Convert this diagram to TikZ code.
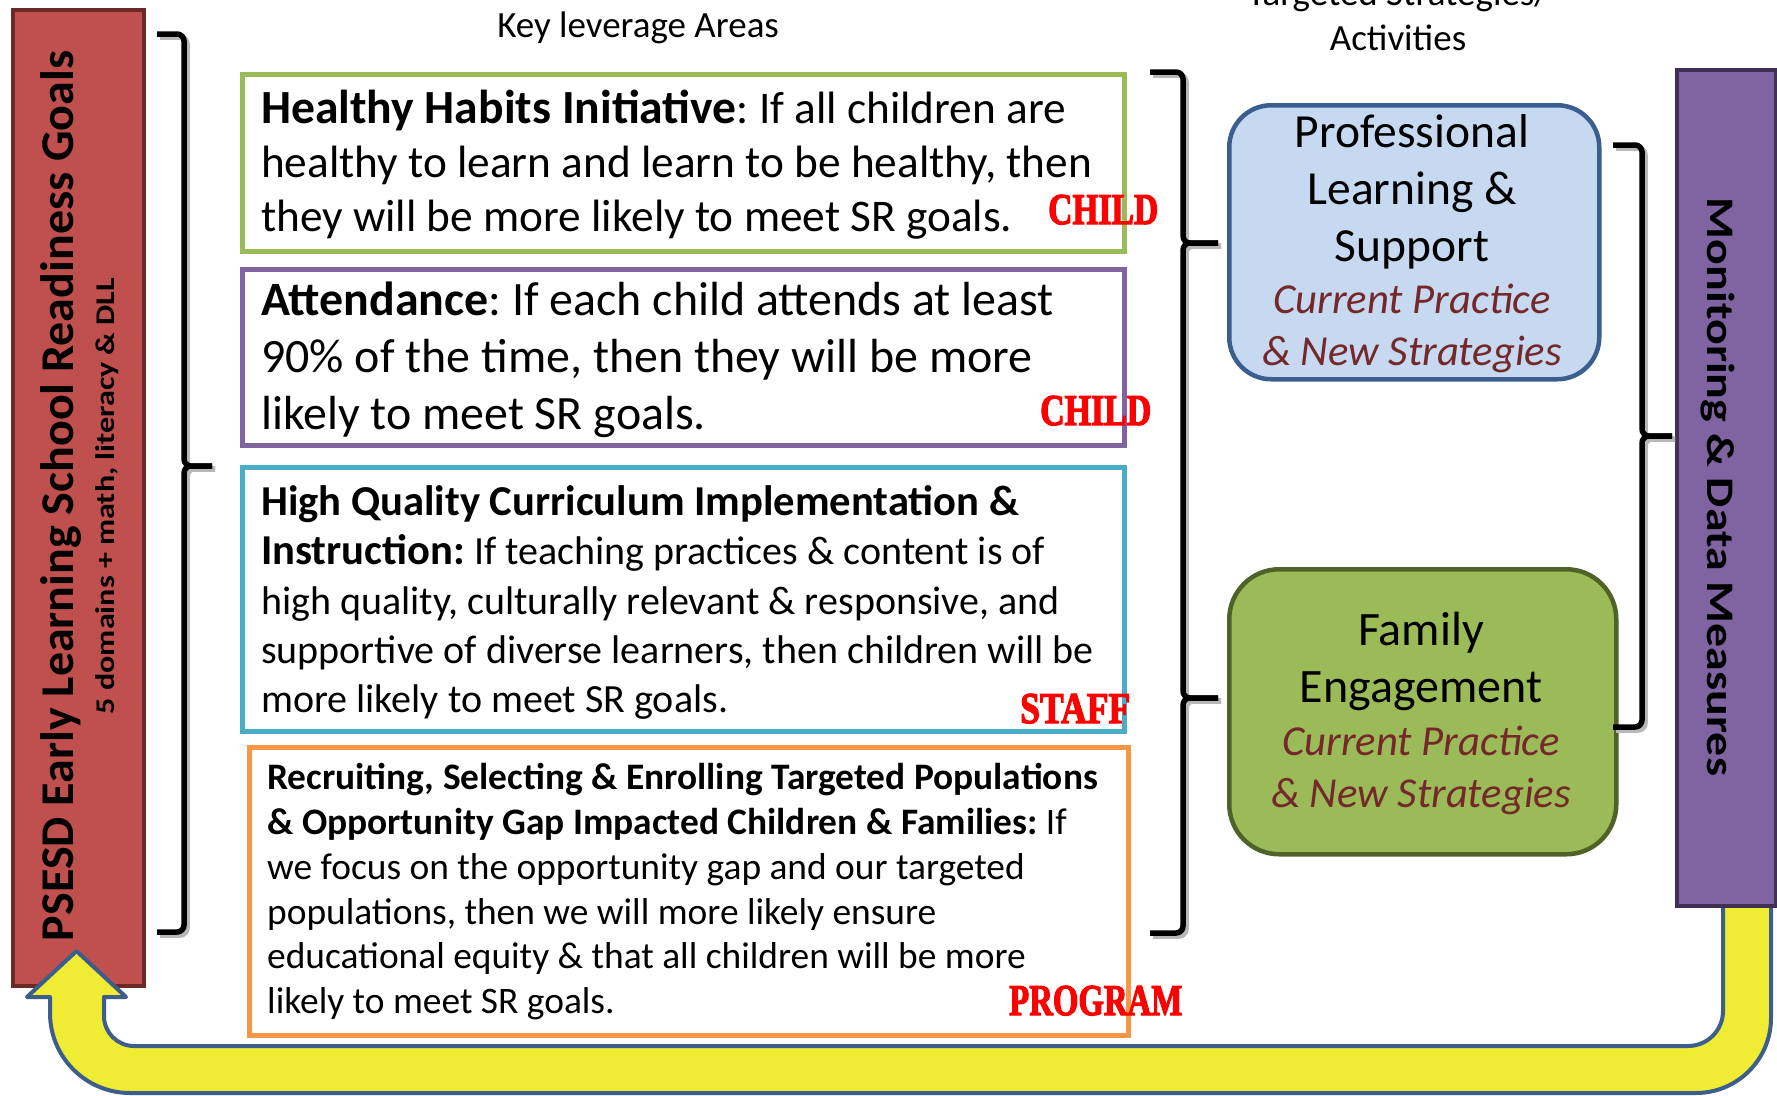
\documentclass[tikz,border=0pt]{standalone}
\usepackage{fontspec}
\usepackage{graphicx}
\setmainfont{Carlito}
\newfontfamily\tagfont[FakeBold=3]{Liberation Serif}
\definecolor{gB}{HTML}{9BBB59}
\definecolor{pB}{HTML}{8064A2}
\definecolor{cB}{HTML}{4BACC6}
\definecolor{oB}{HTML}{F79646}
\definecolor{redF}{HTML}{C0504D}
\definecolor{redD}{HTML}{6B2927}
\definecolor{purF}{HTML}{8064A2}
\definecolor{purD}{HTML}{3F3151}
\definecolor{blF}{HTML}{C6D9F1}
\definecolor{blD}{HTML}{3A5F8E}
\definecolor{grF}{HTML}{9BBB59}
\definecolor{grD}{HTML}{4F6228}
\definecolor{maroon}{HTML}{74282A}
\definecolor{yel}{HTML}{F0EB33}
\definecolor{arrD}{HTML}{3B5E8C}
\frenchspacing
\newcommand{\setfs}[2]{\fontsize{#1}{#2}\selectfont}
\newcommand{\lnstrut}{\rule{0pt}{0.75em}}
\newcommand{\tagtext}[2]{\resizebox{#1pt}{\height}{\tagfont\bfseries\fontsize{44}{50}\selectfont #2}}
\tikzset{
  kbox/.style={draw, line width=4.5pt, anchor=north west, inner sep=0pt, fill=white},
  ktext/.style={inner sep=0pt, anchor=north west, align=left},
  ctext/.style={inner sep=0pt, anchor=north, align=center},
  rbox/.style={line width=4.5pt, anchor=north west, inner sep=0pt},
  brk/.style={line width=5.5pt, rounded corners=7pt},
  brkshadow/.style={brk, draw=black!28, transform canvas={shift={(3pt,-3pt)}}},
  tag/.style={inner sep=0pt, anchor=base west, text=red},
  head/.style={inner sep=0pt, anchor=base, font=\setfs{37}{45}}
}
\begin{document}
\begin{tikzpicture}[x=1pt,y=-1pt]
\useasboundingbox (0,0) rectangle (1777,1095);
\fill[white] (0,0) rectangle (1777,1095);

% headings
\node[head] (kla) at (638,37) {Key leverage Areas};
\node[head] (tsa) at (1398,5) {Targeted Strategies/};
\node[head] (act) at (1398,50) {Activities};

% goals box
\node[rbox, draw=redD, fill=redF, line width=4pt, minimum width=131pt, minimum height=976pt] (goals) at (11,8) {};
\node[rotate=90, anchor=base, inner sep=0pt] (goalt) at (73,496)
  {\resizebox{890pt}{\height}{\setfs{47}{52}\bfseries PSESD Early Learning School Readiness Goals}};
\node[rotate=90, anchor=base, inner sep=0pt] (goals2) at (114,496)
  {\resizebox{436pt}{\height}{\setfs{27}{32}\bfseries 5 domains + math, literacy \& DLL}};

% feedback arrow
\draw[fill=yel, draw=arrD, line width=4pt, line join=round]
  (1771,890) -- (1771,1018) arc[start angle=0,end angle=90,radius=75]
  -- (130,1093) arc[start angle=90,end angle=180,radius=80]
  -- (50,997) -- (27,997) -- (76.5,951) -- (126,997) -- (104,997)
  -- (104,1016) arc[start angle=180,end angle=90,radius=30]
  -- (1688,1046) arc[start angle=90,end angle=0,radius=35]
  -- (1723,890) -- cycle;

% monitoring box
\node[rbox, draw=purD, fill=purF, line width=4pt, minimum width=99pt, minimum height=836pt] (mon) at (1675,68) {};
\node[rotate=-90, anchor=base, inner sep=0pt] (mont) at (1707,487)
  {\resizebox{578pt}{\height}{\setfs{39}{44}\bfseries Monitoring \& Data Measures}};

% key leverage boxes
\node[kbox, draw=gB, minimum width=882pt, minimum height=177pt] (hh) at (240,72) {};
\node[kbox, draw=pB, minimum width=882pt, minimum height=176pt] (att) at (240,267) {};
\node[kbox, draw=cB, minimum width=882pt, minimum height=264pt] (hq) at (240,465) {};
\node[kbox, draw=oB, minimum width=879pt, minimum height=288pt] (rec) at (247,745) {};

\node[ktext, font=\setfs{45.3}{54.4}] (hht) at (261,89)
  {\lnstrut{\bfseries\setfs{47.6}{54.4}Healthy Habits Initiative}: If all children are\\
   healthy to learn and learn to be healthy, then\\
   they will be more likely to meet SR goals.};
\node[ktext, font=\setfs{47.9}{57}] (attt) at (261,279.5)
  {\lnstrut\textbf{Attendance}: If each child attends at least\\
   90\% of the time, then they will be more\\
   likely to meet SR goals.};
\node[ktext, font=\setfs{40}{49.2}] (hqt) at (261,485.5)
  {\lnstrut{\bfseries\setfs{42.6}{49.2}High Quality Curriculum Implementation \&}\\
   {\bfseries\setfs{42.6}{49.2}Instruction:} If teaching practices \& content is of\\
   high quality, culturally relevant \& responsive, and\\
   supportive of diverse learners, then children will be\\
   more likely to meet SR goals.};
\node[ktext, font=\setfs{37.4}{44.8}] (rect) at (267,761.5)
  {\lnstrut\textbf{Recruiting, Selecting \& Enrolling Targeted Populations}\\
   \textbf{\& Opportunity Gap Impacted Children \& Families:} If\\
   we focus on the opportunity gap and our targeted\\
   populations, then we will more likely ensure\\
   educational equity \& that all children will be more\\
   likely to meet SR goals.};

% tags
\node[tag] (tag1) at (1048,224) {\tagtext{110}{CHILD}};
\node[tag] (tag2) at (1040,425) {\tagtext{111}{CHILD}};
\node[tag] (tag3) at (1020,723) {\tagtext{110}{STAFF}};
\node[tag] (tag4) at (1009,1015) {\tagtext{173}{PROGRAM}};

% strategy boxes
\node[rbox, draw=blD, fill=blF, rounded corners=42pt, minimum width=370pt, minimum height=274pt] (pls) at (1227,103) {};
\node[ctext, font=\setfs{47.5}{57}] (plst) at (1412,111.4) {\lnstrut Professional\\Learning \&\\Support};
\node[ctext, font=\setfs{42.7}{52}\itshape, text=maroon] (plsi) at (1412,281) {\lnstrut Current Practice\\\& New Strategies};

\node[rbox, draw=grD, fill=grF, rounded corners=50pt, minimum width=387pt, minimum height=285pt] (fam) at (1227,567) {};
\node[ctext, font=\setfs{48}{57}] (famt) at (1421,609) {\lnstrut Family\\Engagement};
\node[ctext, font=\setfs{42.7}{52}\itshape, text=maroon] (fami) at (1421,723) {\lnstrut Current Practice\\\& New Strategies};

% bracket coordinates
\coordinate (lA) at (157,34);  \coordinate (lB) at (157,932);
\coordinate (lV) at (184,466); \coordinate (lT) at (212,466);
\coordinate (mA) at (1150,72); \coordinate (mB) at (1150,933);
\coordinate (mV1) at (1183,243); \coordinate (mT1) at (1218,243);
\coordinate (mV2) at (1183,698); \coordinate (mT2) at (1218,698);
\coordinate (rA) at (1613,145); \coordinate (rB) at (1613,727);
\coordinate (rV) at (1642,436); \coordinate (rT) at (1672,436);

% bracket shadows
\draw[brkshadow] (lA) -| (lV) -- (lT);
\draw[brkshadow] (lB) -| (lV) -- (lT);
\draw[brkshadow] (mA) -| (mV1) -- (mT1);
\draw[brkshadow] (mT1) -- (mV1) -- (mV2) -- (mT2);
\draw[brkshadow] (mB) -| (mV2) -- (mT2);
\draw[brkshadow] (rA) -| (rV) -- (rT);
\draw[brkshadow] (rB) -| (rV) -- (rT);
% brackets
\draw[brk] (lA) -| (lV) -- (lT);
\draw[brk] (lB) -| (lV) -- (lT);
\draw[brk] (mA) -| (mV1) -- (mT1);
\draw[brk] (mT1) -- (mV1) -- (mV2) -- (mT2);
\draw[brk] (mB) -| (mV2) -- (mT2);
\draw[brk] (rA) -| (rV) -- (rT);
\draw[brk] (rB) -| (rV) -- (rT);
\end{tikzpicture}
\end{document}
